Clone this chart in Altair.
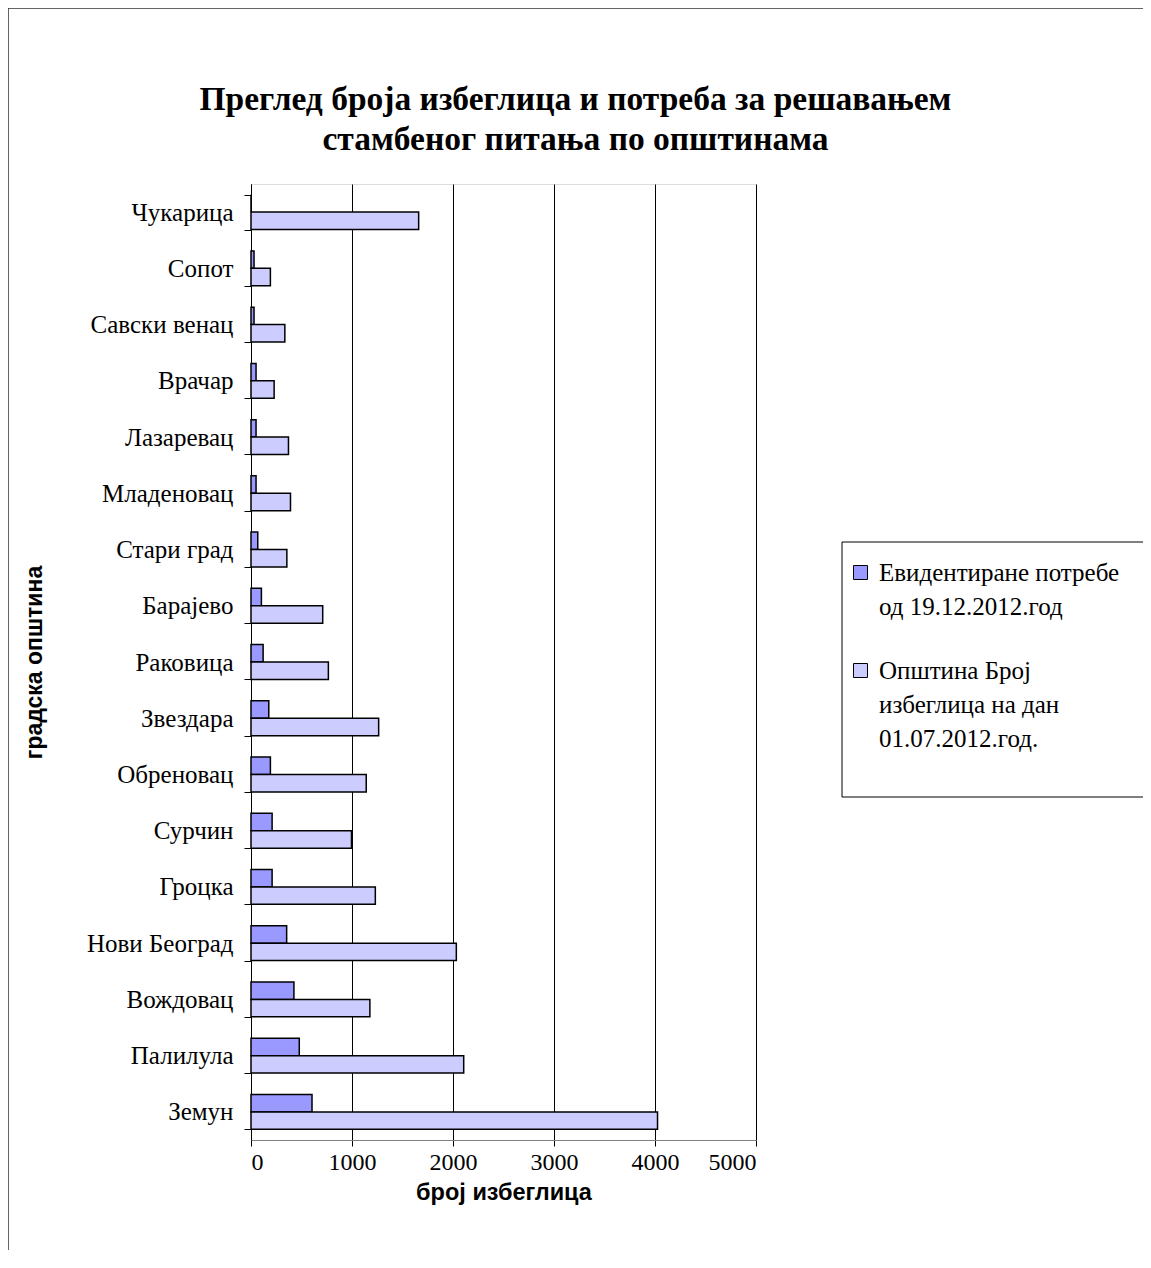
import altair as alt
import pandas as pd

municipalities = ["Чукарица", "Сопот", "Савски венац", "Врачар", "Лазаревац", "Младеновац",
                  "Стари град", "Барајево", "Раковица", "Звездара", "Обреновац", "Сурчин",
                  "Гроцка", "Нови Београд", "Вождовац", "Палилула", "Земун"]
needs = [0, 30, 30, 50, 50, 50, 67, 103, 120, 176, 192, 209, 209, 353, 425, 478, 604]
refugees = [1660, 192, 335, 229, 371, 391, 355, 710, 766, 1264, 1141, 995, 1231, 2033, 1177, 2106, 4025]

s1 = "Евидентиране потребе од 19.12.2012.год"
s2 = "Општина Број избеглица на дан 01.07.2012.год."
series = [s1, s2]
colors = ["#9999FF", "#CCCCFF"]

rows = []
for m, a, b in zip(municipalities, needs, refugees):
    rows.append({"opstina": m, "serija": s1, "vrednost": a})
    rows.append({"opstina": m, "serija": s2, "vrednost": b})
df = pd.DataFrame(rows)

label_expr = ("datum.label == '" + s1 + "' ? ['Евидентиране потребе', 'од 19.12.2012.год'] : "
              "['Општина Број', 'избеглица на дан', '01.07.2012.год.']")

bars = alt.Chart(df).mark_bar(stroke="black", strokeWidth=1.5).encode(
    x=alt.X("vrednost:Q", title="број избеглица",
            scale=alt.Scale(domain=[0, 5000], nice=False),
            axis=alt.Axis(values=[0, 1000, 2000, 3000, 4000, 5000], format="d", grid=True,
                          gridColor="black", gridWidth=1, domainColor="#808080",
                          tickColor="black", tickSize=6, labelFont="Liberation Serif",
                          labelFontSize=24, labelColor="black", labelPadding=4,
                          titleFont="Liberation Sans", titleFontSize=23.5, titleFontWeight="bold",
                          titleColor="black", titleY=52, titleBaseline="middle")),
    y=alt.Y("opstina:N", title="градска општина", sort=municipalities,
            scale=alt.Scale(paddingInner=0.38, paddingOuter=0.19),
            axis=alt.Axis(tickBand="extent", tickColor="black", tickSize=7,
                          domainColor="black", labelFont="Liberation Serif", labelFontSize=25,
                          labelColor="black", labelPadding=11, grid=False, labelLimit=0,
                          titleFont="Liberation Sans", titleFontSize=23, titleFontWeight="bold",
                          titleColor="black", titleX=-217, titleY=478, titleAngle=-90,
                          titleBaseline="middle", titleAlign="center")),
    yOffset=alt.YOffset("serija:N", sort=series),
    color=alt.Color("serija:N", sort=series,
                    scale=alt.Scale(domain=series, range=colors),
                    legend=alt.Legend(title=None, orient="none", legendX=591, legendY=370,
                                      labelExpr=label_expr, symbolType="square",
                                      symbolSize=196, symbolStrokeColor="black",
                                      symbolStrokeWidth=1, labelFont="Liberation Serif",
                                      labelFontSize=25, labelColor="black",
                                      labelBaseline="middle",
                                      labelLimit=0, rowPadding=38,
                                      padding=6, labelOffset=6)),
)

frame = alt.Chart(pd.DataFrame({"a": [0]})).mark_rect(
    fill=None, stroke="#333333", strokeWidth=1.5, clip=False
).encode(
    x=alt.value(-243), x2=alt.value(909), y=alt.value(-176), y2=alt.value(1096)
)

legend_box = alt.Chart(pd.DataFrame({"a": [0]})).mark_rect(
    fill=None, stroke="black", strokeWidth=1, clip=False
).encode(
    x=alt.value(591), x2=alt.value(909), y=alt.value(358), y2=alt.value(613)
)

chart = alt.layer(frame, legend_box, bars).properties(
    width=505, height=956,
    title=alt.TitleParams(
        text=["Преглед броја избеглица и потреба за решавањем",
              "стамбеног питања по општинама"],
        font="Liberation Serif", fontSize=33.5, fontWeight="bold", color="black",
        anchor="middle", frame="group", dx=72, offset=0, dy=183, baseline="bottom",
        lineHeight=40),
    padding={"left": 243, "top": 176, "right": 387, "bottom": 110},
    autosize=alt.AutoSizeParams(type="none"),
).configure_view(stroke="#808080", strokeWidth=1).configure(
    style={"guide-label": {"lineHeight": 34}}
)

chart.save("out.html", embed_options={"renderer": "svg", "actions": False})
